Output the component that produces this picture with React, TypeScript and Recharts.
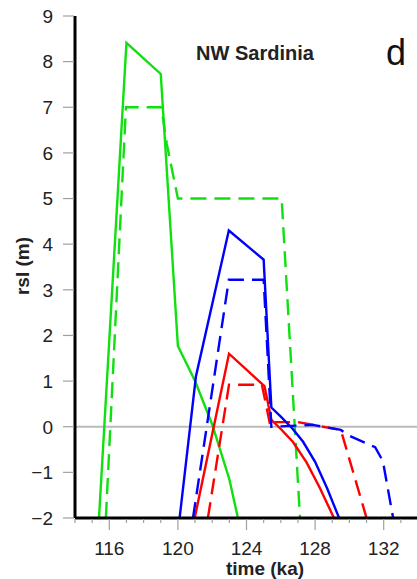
import { LineChart, Line, XAxis, YAxis, ReferenceLine } from "recharts";

// ages (ka) and relative sea level (m)
const GREEN_SOLID_T = [115.4, 117.0, 119.0, 120.0, 121.0, 122.0, 123.0, 123.5];
const GREEN_SOLID_V = [-2, 8.41, 7.73, 1.77, 1.0, 0.05, -1.15, -2];

const GREEN_DASH_T = [115.8, 116.97, 119.04, 119.35, 120.0, 126.05, 127.12];
const GREEN_DASH_V = [-2, 7.0, 7.0, 6.2, 5.0, 5.0, -2];

const BLUE_SOLID_T = [120.1, 121.05, 122.97, 125.0, 125.45, 126.0, 126.7, 127.3, 128.0, 128.7, 129.4];
const BLUE_SOLID_V = [-2, 1.1, 4.3, 3.66, 0.42, 0.22, -0.05, -0.33, -0.77, -1.35, -2];

const BLUE_DASH_T = [120.88, 122.97, 125.0, 125.45, 127.86, 129.5, 129.9, 131.5, 131.95, 132.55];
const BLUE_DASH_V = [-2, 3.22, 3.22, 0.0, 0.04, -0.07, -0.18, -0.45, -0.75, -2];

const RED_SOLID_T = [120.98, 122.98, 125.05, 125.45, 126.0, 126.7, 127.5, 128.25, 129.1];
const RED_SOLID_V = [-2, 1.6, 0.89, 0.15, -0.05, -0.33, -0.78, -1.32, -2];

const RED_DASH_T = [121.75, 122.98, 124.9, 125.4, 125.7, 127.0, 129.5, 131.0];
const RED_DASH_V = [-2, 0.92, 0.92, 0.0, 0.1, 0.1, -0.07, -2];

const X_TICKS = [114, 115, 116, 117, 118, 119, 120, 121, 122, 123, 124, 125, 126, 127, 128, 129, 130, 131, 132, 133, 134];
const X_LABELS = [116, 120, 124, 128, 132];
const Y_TICKS = [-2, -1, 0, 1, 2, 3, 4, 5, 6, 7, 8, 9];

const GREEN = "#10e010";
const BLUE = "#0000ff";
const RED = "#ff0000";
const TICK_GRAY = "#a0a0a0";
const FONT = "'Liberation Sans', Arial, Helvetica, sans-serif";

const zip = (t: number[], v: number[]) => t.map((x, i) => ({ t: x, v: v[i] }));

const series = [
  { name: "greenDash", data: zip(GREEN_DASH_T, GREEN_DASH_V), color: GREEN, dash: "16 8" },
  { name: "greenSolid", data: zip(GREEN_SOLID_T, GREEN_SOLID_V), color: GREEN },
  { name: "redDash", data: zip(RED_DASH_T, RED_DASH_V), color: RED, dash: "16 8" },
  { name: "redSolid", data: zip(RED_SOLID_T, RED_SOLID_V), color: RED },
  { name: "blueDash", data: zip(BLUE_DASH_T, BLUE_DASH_V), color: BLUE, dash: "16 8" },
  { name: "blueSolid", data: zip(BLUE_SOLID_T, BLUE_SOLID_V), color: BLUE },
];

function BottomTick(props: any) {
  const { x, y, payload } = props;
  const major = X_LABELS.includes(payload.value);
  return (
    <g>
      <line x1={x} x2={x} y1={y + 1} y2={y + (major ? 12 : 5)} stroke={TICK_GRAY} strokeWidth={1.2} />
      {major && (
        <text x={x} y={y + 37} textAnchor="middle" fontSize={19} fill="#222" fontFamily={FONT}>
          {payload.value}
        </text>
      )}
    </g>
  );
}

function TopTick(props: any) {
  const { x, y, payload } = props;
  const major = X_LABELS.includes(payload.value);
  return <line x1={x} x2={x} y1={y - 1} y2={y - (major ? 11 : 5)} stroke={TICK_GRAY} strokeWidth={1.2} />;
}

function LeftTick(props: any) {
  const { x, y, payload } = props;
  const v = payload.value;
  const label = v < 0 ? `\u2212${-v}` : `${v}`;
  return (
    <g>
      <line x1={x - 12} x2={x - 1} y1={y} y2={y} stroke={TICK_GRAY} strokeWidth={1.2} />
      <text x={53} y={y} dy="0.36em" textAnchor="end" fontSize={19} fill="#222" fontFamily={FONT}>
        {label}
      </text>
    </g>
  );
}

export default function App() {
  return (
    <div style={{ position: "relative", width: 417, height: 579, overflow: "hidden", background: "#fff" }}>
      <style>{"body{margin:0}"}</style>
      <LineChart width={418} height={579} margin={{ top: 16, right: 0, bottom: 0, left: 0 }}>
        <XAxis
          xAxisId="b"
          type="number"
          dataKey="t"
          domain={[114, 134]}
          ticks={X_TICKS}
          interval={0}
          allowDataOverflow
          height={61}
          tickSize={0}
          tickMargin={0}
          tickLine={false}
          axisLine={{ stroke: "#000", strokeWidth: 3 }}
          tick={<BottomTick />}
        />
        <XAxis
          xAxisId="top"
          orientation="top"
          type="number"
          dataKey="t"
          domain={[114, 134]}
          ticks={X_TICKS}
          interval={0}
          allowDataOverflow
          height={0}
          tickSize={0}
          tickMargin={0}
          tickLine={false}
          axisLine={{ stroke: "#000", strokeWidth: 3 }}
          tick={<TopTick />}
        />
        <YAxis
          yAxisId="l"
          type="number"
          domain={[-2, 9]}
          ticks={Y_TICKS}
          interval={0}
          allowDataOverflow
          width={75}
          tickSize={0}
          tickMargin={0}
          tickLine={false}
          axisLine={{ stroke: "#000", strokeWidth: 3 }}
          tick={<LeftTick />}
        />
        <ReferenceLine xAxisId="b" yAxisId="l" y={0} stroke="#bbbbbb" strokeWidth={2} />
        {series.map((s) => (
          <Line
            key={s.name}
            xAxisId="b"
            yAxisId="l"
            data={s.data}
            dataKey="v"
            type="linear"
            stroke={s.color}
            strokeWidth={2.4}
            strokeDasharray={s.dash}
            dot={false}
            activeDot={false}
            isAnimationActive={false}
          />
        ))}
      </LineChart>
      <svg width={417} height={579} style={{ position: "absolute", left: 0, top: 0, pointerEvents: "none" }}>
        <text x={255} y={60} textAnchor="middle" fontSize={20} fontWeight="bold" fill="#222" fontFamily={FONT}>
          NW Sardinia
        </text>
        <text x={396} y={65} textAnchor="middle" fontSize={36} fill="#111" fontFamily={FONT}>
          d
        </text>
        <text
          x={0}
          y={0}
          transform="translate(29,266) rotate(-90)"
          textAnchor="middle"
          fontSize={19}
          fontWeight="bold"
          fill="#222"
          fontFamily={FONT}
        >
          rsl (m)
        </text>
        <text x={265} y={575} textAnchor="middle" fontSize={19} fontWeight="bold" fill="#222" fontFamily={FONT}>
          time (ka)
        </text>
      </svg>
    </div>
  );
}
